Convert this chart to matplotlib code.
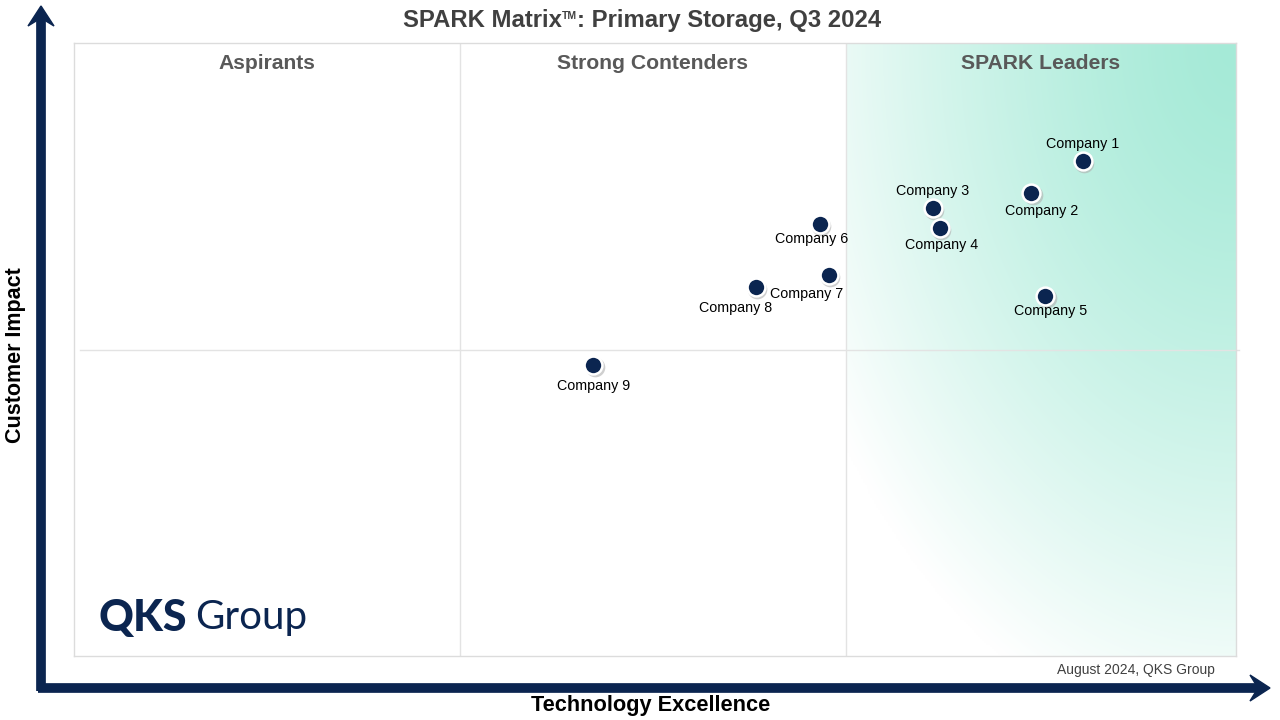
import numpy as np
import matplotlib
matplotlib.use("Agg")
import matplotlib.pyplot as plt
from matplotlib.patches import Polygon
from matplotlib.colors import to_rgb
import matplotlib.transforms as mtransforms

# ---- data ----
companies = ["Company 1", "Company 2", "Company 3", "Company 4", "Company 5",
             "Company 6", "Company 7", "Company 8", "Company 9"]
tech_excellence = [86.8, 82.4, 73.9, 74.5, 83.6, 64.2, 65.0, 58.7, 44.7]
customer_impact = [80.8, 75.5, 73.1, 69.8, 58.7, 70.5, 62.2, 60.2, 47.5]
# label offsets in points (dx, dy)
label_dx = [0, 7, 0, 1, 4, -6, -16, -15, 0]
label_dy = [12, -13, 12, -12, -11, -11, -14, -15, -15]
quadrants = ["Aspirants", "Strong Contenders", "SPARK Leaders"]
col_edges = [0, 33.2, 66.4, 100]
title_parts = ["SPARK Matrix", "TM", ": Primary Storage, Q3 2024"]

NAVY = "#0b2550"
plt.rcParams['font.family'] = ['Liberation Sans', 'DejaVu Sans']

fig = plt.figure(figsize=(12.8, 7.2), dpi=100)
ax = fig.add_axes([74/1280, 64/720, 1162/1280, 613/720])
ax.set_xlim(0, 100)
ax.set_ylim(0, 100)
ax.set_xticks([])
ax.set_yticks([])
for s in ax.spines.values():
    s.set_color("#dcdcdc")
    s.set_linewidth(1)

# gradient in leaders column (elliptical falloff from top-right corner)
nx, ny = 200, 300
qw, qh = 390.0, 613.0
u = np.linspace(0, 1, nx)
v = np.linspace(0, 1, ny)
U, V = np.meshgrid(u, v)
dx = (1 - U) * qw
dy = (1 - V) * qh
r = np.sqrt((dx / 476.0) ** 2 + (dy / 705.0) ** 2)
alpha = np.clip(1 - r ** 1.37, 0, 1)
teal = np.array(to_rgb("#a5ead7"))
img = np.ones((ny, nx, 3)) * (1 - alpha[..., None]) + teal * alpha[..., None]
ax.imshow(img, extent=[col_edges[2], 100, 0, 100], origin="lower", aspect="auto",
          zorder=0, interpolation="bilinear")

# dividers
ax.axvline(col_edges[1], color="#e3e3e3", lw=1, zorder=1)
ax.axvline(col_edges[2], color="#e3e3e3", lw=1, zorder=1)
ax.plot([0.5, 100.3], [50, 50], color="#e3e3e3", lw=1, zorder=1, clip_on=False)

# quadrant labels
for i, q in enumerate(quadrants):
    ax.text((col_edges[i] + col_edges[i + 1]) / 2, 96.6, q, ha="center", va="center",
            fontsize=15.2, fontweight="bold", color="#595959", zorder=3)

# markers with shadow
shadow = mtransforms.offset_copy(ax.transData, fig=fig, x=0.8, y=-1.5, units="points")
ax.scatter(tech_excellence, customer_impact, s=200, color="#b0b0b0", alpha=0.6,
           transform=shadow, zorder=3, linewidths=0)
ax.scatter(tech_excellence, customer_impact, s=165, color=NAVY, edgecolors="white",
           linewidths=1.8, zorder=4)
for name, x, y, ddx, ddy in zip(companies, tech_excellence, customer_impact, label_dx, label_dy):
    ax.annotate(name, (x, y), xytext=(ddx, ddy), textcoords="offset points",
                ha="center", va="center", fontsize=10.3, color="black", zorder=5)

# title composed of parts (small superscript TM)
renderer = fig.canvas.get_renderer()
sizes = [17.2, 7.5, 17.2]
texts = []
for part, fs in zip(title_parts, sizes):
    t = fig.text(0, 0.5, part, ha="left", va="baseline", fontsize=fs,
                 fontweight="bold", color="#404040")
    texts.append(t)
widths = [t.get_window_extent(renderer).width for t in texts]
total = sum(widths)
x0 = 642 - total / 2
base_y = 720 - 27
for t, w, dyp in zip(texts, widths, [0, 8, 0]):
    t.set_position((x0 / 1280, (base_y + dyp) / 720))
    x0 += w

# axis arrows
fig_ax = fig.add_axes([0, 0, 1, 1], zorder=-1)
fig_ax.set_xlim(0, 1280)
fig_ax.set_ylim(720, 0)
fig_ax.axis("off")
fig_ax.plot([41, 41], [691, 14], color=NAVY, lw=7, solid_capstyle="butt")
fig_ax.plot([37.5, 1262], [688, 688], color=NAVY, lw=7, solid_capstyle="butt")
fig_ax.add_patch(Polygon([[41, 6], [54, 26], [41, 18], [28, 26]], closed=True, color=NAVY))
fig_ax.add_patch(Polygon([[1270, 688], [1250, 675], [1258, 688], [1250, 701]], closed=True, color=NAVY))

fig.text(16/1280, 1 - 355/720, "Customer Impact", rotation=90, ha="center", va="center",
         fontsize=15.5, fontweight="bold", color="black")
fig.text(651/1280, 1 - 705/720, "Technology Excellence", ha="center", va="center",
         fontsize=15.7, fontweight="bold", color="black")
fig.text(1136/1280, 1 - 670/720, "August 2024, QKS Group", ha="center", va="center",
         fontsize=10, color="#404040")

# logo
fig.text(99/1280, 1 - 618/720, "QKS", ha="left", va="center", fontsize=31,
         fontweight="black", color=NAVY, family=["Lato", "DejaVu Sans"])
fig.text(195/1280, 1 - 618/720, "Group", ha="left", va="center", fontsize=29,
         fontweight="normal", color=NAVY, family=["Lato", "DejaVu Sans"])

fig.savefig("out.png", dpi=100)
